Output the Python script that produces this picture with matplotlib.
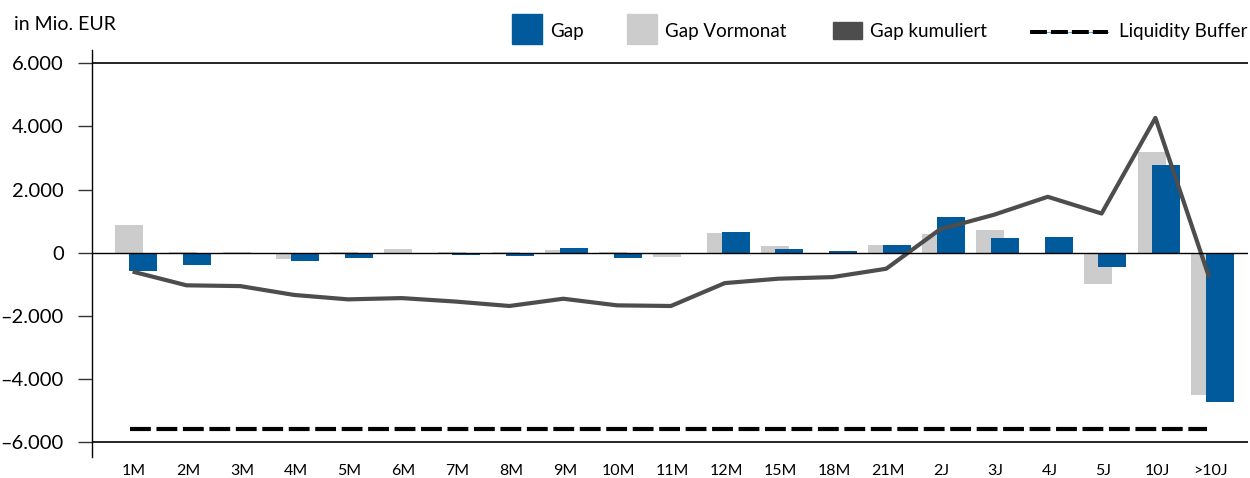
import matplotlib
matplotlib.use('Agg')
import matplotlib.pyplot as plt
from matplotlib.patches import Rectangle
from matplotlib.lines import Line2D
import numpy as np

plt.rcParams['font.family'] = ['Lato', 'DejaVu Sans']

# data (Mio. EUR)
categories = ['1M', '2M', '3M', '4M', '5M', '6M', '7M', '8M', '9M', '10M', '11M',
              '12M', '15M', '18M', '21M', '2J', '3J', '4J', '5J', '10J', '>10J']
gap = [-590, -380, -50, -250, -170, -30, -85, -115, 145, -170, -45,
       665, 105, 40, 230, 1140, 470, 490, -460, 2780, -4720]
gap_vormonat = [890, 15, 10, -210, 20, 125, 10, 10, 70, 10, -140,
                630, 200, -30, 240, 580, 705, -35, -1005, 3190, -4510]
gap_kumuliert = [-600, -1035, -1060, -1340, -1480, -1440, -1550, -1690, -1460, -1670, -1690,
                 -965, -825, -775, -510, 740, 1200, 1770, 1240, 4270, -790]
liquidity_buffer = [-5600] * len(categories)
yticks = [-6000, -4000, -2000, 0, 2000, 4000, 6000]

BLUE = '#005a9c'
GREY = '#cccccc'
DARK = '#4d4d4d'

fig = plt.figure(figsize=(12.5, 4.78), dpi=100)
ax = fig.add_axes([91.7 / 1250, 1 - 457 / 478, (1248 - 91.7) / 1250, (457 - 50) / 478])

x = np.arange(len(categories))
w = 0.52
ax.bar(x - 0.10, gap_vormonat, width=w, color=GREY, zorder=2)
ax.bar(x + 0.17, gap, width=w, color=BLUE, zorder=3)
ax.plot(x - 0.03, gap_kumuliert, color=DARK, lw=3, zorder=4, solid_capstyle='butt')
ax.plot(x - 0.08, liquidity_buffer, color='black', lw=3, dashes=(5.0, 1.35),
        dash_capstyle='butt', zorder=4)

ax.axhline(0, color='black', lw=1, zorder=5)
ax.axhline(6000, color='black', lw=1.2, zorder=1)
ax.axhline(-6000, color='black', lw=1.2, zorder=1)

ax.set_xlim(-0.79, 20.69)
ax.set_ylim(-6475, 6421)
for s in ['top', 'right', 'bottom']:
    ax.spines[s].set_visible(False)
ax.spines['left'].set_linewidth(1)

ax.set_yticks(yticks)
ax.set_yticklabels([f'{v:,}'.replace(',', '.').replace('-', '\u2013') for v in yticks])
ax.tick_params(axis='y', length=10, width=1, pad=10, labelsize=14.5, color='#333333')
ax.set_xticks(x)
ax.set_xticklabels(categories)
ax.tick_params(axis='x', length=0, pad=5, labelsize=11.5)

fig.text(14 / 1250, 1 - 24 / 478, 'in Mio. EUR', fontsize=14, va='center', ha='left')

# legend
def fx(px):
    return px / 1250

def fy(py):
    return 1 - py / 478

fig.add_artist(Rectangle((fx(512), fy(44)), fx(30), 30 / 478, color=BLUE, transform=fig.transFigure))
fig.text(fx(550), fy(31), 'Gap', fontsize=13.5, va='center')
fig.add_artist(Rectangle((fx(627), fy(44)), fx(30), 30 / 478, color=GREY, transform=fig.transFigure))
fig.text(fx(665), fy(31), 'Gap Vormonat', fontsize=13.5, va='center')
fig.add_artist(Rectangle((fx(833), fy(39)), fx(29), 17 / 478, color=DARK, transform=fig.transFigure))
fig.text(fx(870), fy(31), 'Gap kumuliert', fontsize=13.5, va='center')
fig.add_artist(Line2D([fx(1030), fx(1108)], [fy(32), fy(32)], color='#6fa8d6', lw=0.8,
                      transform=fig.transFigure))
fig.add_artist(Line2D([fx(1030), fx(1108)], [fy(32), fy(32)], color='black', lw=2.9,
                      dashes=(4.2, 1.0), dash_capstyle='butt', transform=fig.transFigure))
fig.text(fx(1119), fy(31), 'Liquidity Buffer', fontsize=13.5, va='center')

fig.savefig('out.png', dpi=100)
